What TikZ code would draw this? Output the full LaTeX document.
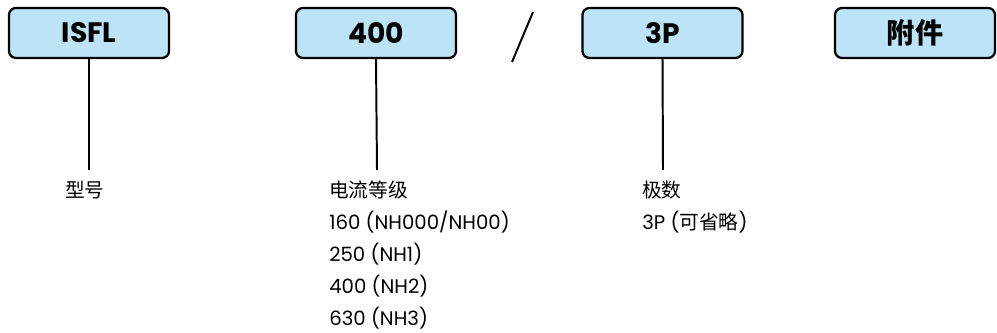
\documentclass[tikz,border=0pt]{standalone}
\usepackage{fontspec}
\setmainfont{Poppins}
\newfontfamily\cjk{Noto Sans CJK SC}
\usepackage{xcolor}
\usetikzlibrary{positioning}

\definecolor{boxblue}{HTML}{BDE3F7}

\begin{document}
\begin{tikzpicture}[x=0.025cm,y=-0.025cm]
  \tikzstyle{field}=[draw,line width=1.6pt,rounded corners=5pt,fill=boxblue,minimum width=4.0cm,minimum height=1.25cm,inner sep=0pt,font=\fontsize{20}{24}\selectfont\bfseries]
  \tikzstyle{stem}=[line width=1.4pt]
  \tikzstyle{note}=[anchor=north west,align=left,inner sep=0pt,font=\fontsize{14}{22.7}\selectfont]
  \useasboundingbox (0,0) rectangle (997,333);
  \node[field] (type) at (89,33) {ISFL};
  \node[field] (curr) at (376,33) {400};
  \node[field] (pole) at (662.5,33) {3P};
  \node[field] (acc) at (915,33) {\cjk\bfseries 附件};
  \draw[stem] (512,62) -- (533,12);
  \coordinate (typeend) at (89,170);
  \coordinate (currend) at (377,170);
  \coordinate (poleend) at (663,170);
  \draw[stem] (type.south) -- (typeend);
  \draw[stem] (curr.south) -- (currend);
  \draw[stem] (pole.south) -- (poleend);
  \node[note] (typenote) at (65,181) {{\cjk 型号}};
  \node[note] (currnote) at (329,181) {{\cjk 电流等级}\\160 (NH000/NH00)\\250 (NH1)\\400 (NH2)\\630 (NH3)};
  \node[note] (polenote) at (642,181) {{\cjk 极数}\\3P ({\cjk 可省略})};
\end{tikzpicture}
\end{document}
